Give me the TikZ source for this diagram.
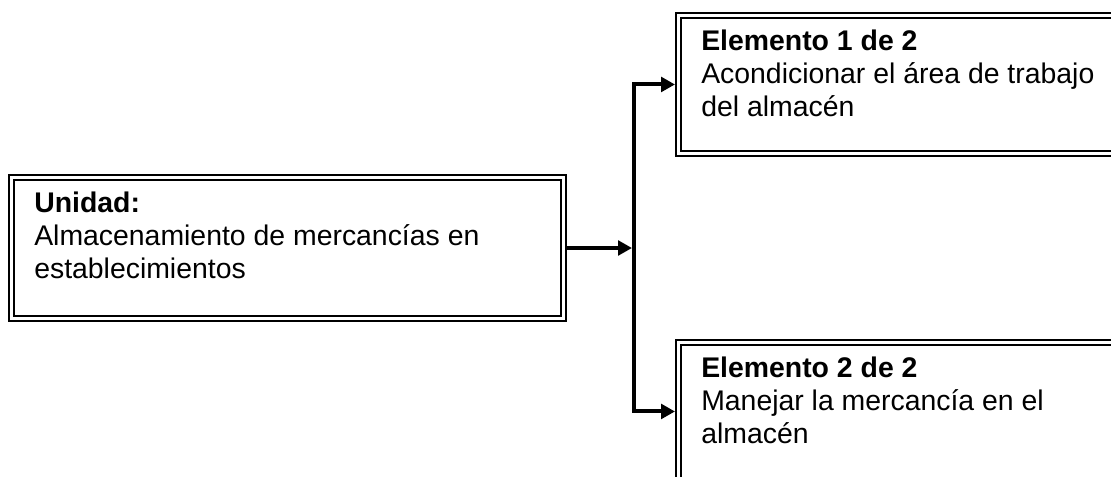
\documentclass[tikz,border=0pt]{standalone}
\usepackage{fontspec}
\setmainfont{Liberation Sans}
\usetikzlibrary{positioning,arrows.meta}

\begin{document}
\begin{tikzpicture}[x=0.75pt,y=-0.75pt,
  frame/.style={draw,double,line width=1.8pt,double distance=1.8pt,outer sep=2.7pt,inner sep=0pt,anchor=north west},
  lbl/.style={align=left,inner sep=0pt,anchor=north west,font=\fontsize{21.3pt}{24.75pt}\selectfont},
  flow/.style={line width=3pt,-{Triangle[length=10.5pt,width=11pt]}}]
\clip (0,0) rectangle (1111,476);
\node [frame,minimum width=413.9pt,minimum height=105.6pt] (unit) at (8,174) {};
\node [frame,minimum width=332pt,minimum height=103.3pt] (elemA) at (675,12) {};
\node [frame,minimum width=332pt,minimum height=103.3pt] (elemB) at (675,339) {};
\node [lbl,below right=13.5pt and 19.5pt of unit.north west] (unitText) {\textbf{Unidad:}\\Almacenamiento de mercancías en\\establecimientos};
\node [lbl,below right=13.5pt and 19.5pt of elemA.north west] (elemAText) {\textbf{Elemento 1 de 2}\\Acondicionar el área de trabajo\\del almacén};
\node [lbl,below right=13.5pt and 19.5pt of elemB.north west] (elemBText) {\textbf{Elemento 2 de 2}\\Manejar la mercancía en el\\almacén};
\coordinate (fork) at (634,248);
\draw [flow,shorten >=1.5pt] (unit.east) -- (fork);
\draw [flow] (fork) |- (elemA.west);
\draw [flow] (fork) |- (elemB.west);
\end{tikzpicture}
\end{document}
